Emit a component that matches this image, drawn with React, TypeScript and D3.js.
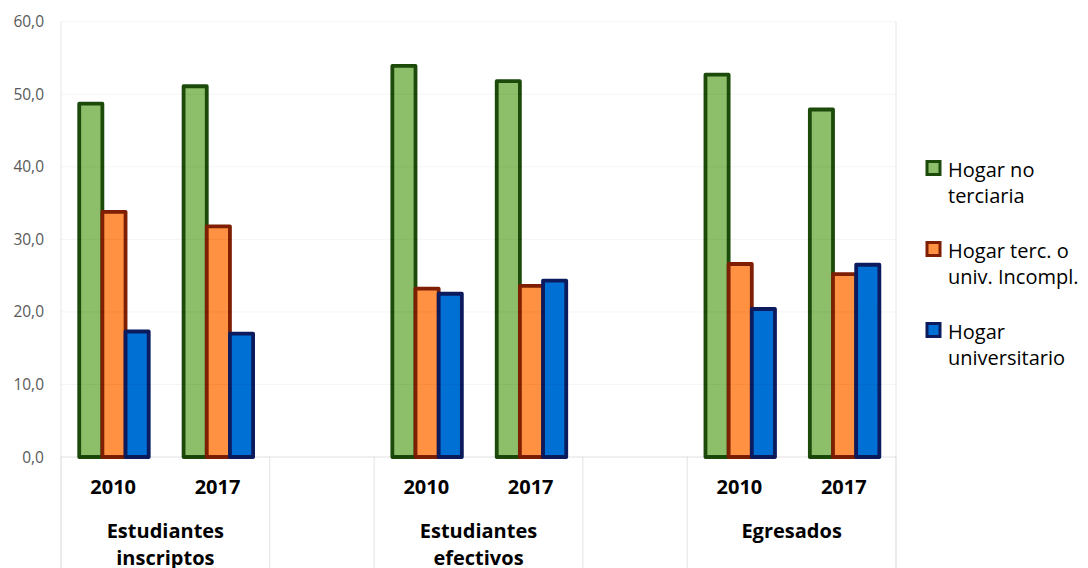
import React from "react";
import * as d3 from "d3";

const groupLabels: string[][] = [["Estudiantes", "inscriptos"], ["Estudiantes", "efectivos"], ["Egresados"]];
const years = ["2010", "2017"];
const seriesNames = ["Hogar no terciaria", "Hogar terc. o univ. Incompl.", "Hogar universitario"];
const legendLines: string[][] = [["Hogar no", "terciaria"], ["Hogar terc. o", "univ. Incompl."], ["Hogar", "universitario"]];
// order: inscriptos 2010, 2017, efectivos 2010, 2017, egresados 2010, 2017
const noTerciaria = [48.7, 51.1, 53.9, 51.8, 52.7, 47.9];
const tercIncompl = [33.8, 31.8, 23.2, 23.6, 26.6, 25.2];
const universitario = [17.3, 17.0, 22.5, 24.3, 20.4, 26.5];
const yTicks = [0, 10, 20, 30, 40, 50, 60];

const fills = ["#8DBE69", "#FF9142", "#0070D5"];
const strokes = ["#1B4A0B", "#7E1E02", "#0B1B5E"];

const W = 1088, H = 568;
const left = 61, right = 896, top = 21.7, bottom = 457;
const FONT = "'Open Sans', Calibri, sans-serif";

export default function App() {
  const series = [noTerciaria, tercIncompl, universitario];
  const slots: string[] = [];
  groupLabels.forEach((_, gi) => {
    years.forEach((yr) => slots.push(`g${gi}-${yr}`));
    if (gi < groupLabels.length - 1) slots.push(`gap${gi}`);
  });
  const x0 = d3.scaleBand<string>().domain(slots).range([left, right]).padding(0);
  const bw = x0.bandwidth();
  const x1 = d3.scaleBand<string>().domain(seriesNames).range([bw * 0.1745, bw * 0.8405]).padding(0);
  const y = d3.scaleLinear().domain([0, 60]).range([bottom, top]);

  const bars: { x: number; y: number; w: number; h: number; s: number }[] = [];
  groupLabels.forEach((_, gi) => {
    years.forEach((yr, yi) => {
      const idx = gi * years.length + yi;
      const sx = x0(`g${gi}-${yr}`)!;
      seriesNames.forEach((sn, si) => {
        const v = series[si][idx];
        bars.push({ x: sx + x1(sn)!, y: y(v), w: x1.bandwidth(), h: y(0) - y(v), s: si });
      });
    });
  });

  const groupBounds = groupLabels.map((_, gi) => {
    const a = x0(`g${gi}-${years[0]}`)!;
    const b = x0(`g${gi}-${years[years.length - 1]}`)! + bw;
    return [a, b];
  });
  const sepXs: number[] = [];
  groupBounds.forEach(([a, b]) => { sepXs.push(a); sepXs.push(b); });

  return (
    <svg width={W} height={H} style={{ position: "absolute", left: 0, top: 0, display: "block", background: "#fff" }} fontFamily={FONT}>
      <rect x={0} y={0} width={W} height={H} fill="#fff" />
      <line x1={left} x2={left} y1={top} y2={H} stroke="#e6e6e6" strokeWidth={1} />
      <line x1={right} x2={right} y1={top} y2={H} stroke="#e6e6e6" strokeWidth={1} />
      {sepXs.map((sx, i) => (
        <line key={"sep" + i} x1={sx} x2={sx} y1={bottom} y2={H} stroke="#e3e3e3" strokeWidth={1} />
      ))}
      {bars.map((b, i) => (
        <rect key={"b" + i} x={b.x} y={b.y} width={b.w} height={b.h} fill={fills[b.s]} stroke={strokes[b.s]} strokeWidth={3.8} strokeLinejoin="round" />
      ))}
      {yTicks.map((t) => (
        <line key={"g" + t} x1={left} x2={right} y1={y(t)} y2={y(t)} stroke="#000" strokeOpacity={t === 0 ? 0.12 : 0.045} strokeWidth={1} />
      ))}
      {yTicks.map((t) => (
        <text key={"yt" + t} x={44} y={y(t) + 5.5} textAnchor="end" fontSize={15.5} fill="#595959">
          {d3.format(".1f")(t).replace(".", ",")}
        </text>
      ))}
      {groupLabels.map((_, gi) =>
        years.map((yr) => (
          <text key={`yr${gi}${yr}`} x={x0(`g${gi}-${yr}`)! + bw / 2} y={494} textAnchor="middle" fontSize={20} fontWeight={700} fill="#000">
            {yr}
          </text>
        ))
      )}
      {groupLabels.map((lines, gi) =>
        lines.map((ln, li) => (
          <text key={`gl${gi}${li}`} x={(groupBounds[gi][0] + groupBounds[gi][1]) / 2} y={538 + li * 27} textAnchor="middle" fontSize={20} fontWeight={700} fill="#000">
            {ln}
          </text>
        ))
      )}
      {legendLines.map((lines, i) => {
        const baseY = 176.5 + i * 81;
        return (
          <g key={"lg" + i}>
            <rect x={927} y={baseY - 15} width={13} height={13} fill={fills[i]} stroke={strokes[i]} strokeWidth={3} />
            {lines.map((ln, li) => (
              <text key={li} x={948} y={baseY + li * 26.5} fontSize={20} fill="#000">
                {ln}
              </text>
            ))}
          </g>
        );
      })}
    </svg>
  );
}
